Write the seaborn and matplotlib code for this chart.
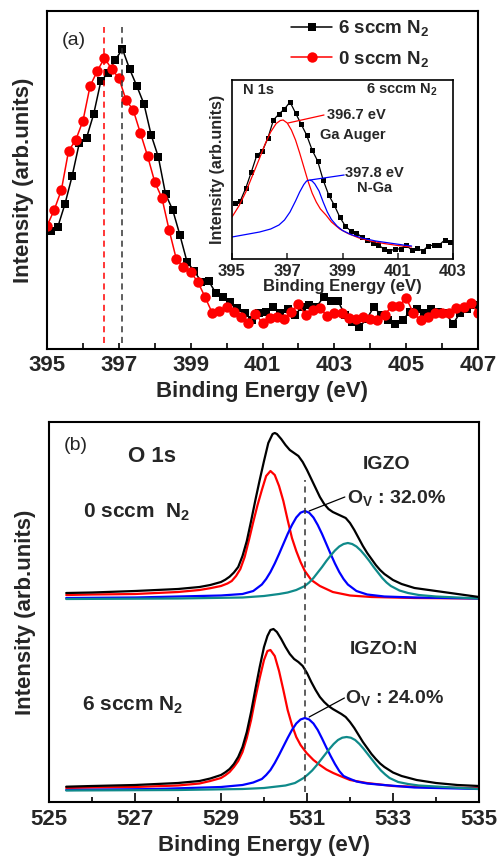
import numpy as np
import pandas as pd
import matplotlib
matplotlib.use("Agg")
import matplotlib.pyplot as plt
import seaborn as sns

# ---------------- panel (a): N 1s region, two samples ----------------
be_6 = np.round(np.arange(395.1, 406.95, 0.2), 1)
int_6 = [118, 122, 145, 173, 206, 211, 235, 268, 276, 289,
         300, 280, 263, 245, 214, 192, 155, 139, 114, 87,
         78, 67, 68, 56, 52, 47, 41, 36, 29, 36,
         37, 42, 36, 40, 34, 42, 44, 42, 52, 48,
         48, 34, 27, 22, 30, 42, 34, 29, 25, 29,
         37, 40, 36, 40, 37, 36, 25, 36, 40, 44]
be_0 = np.round(np.arange(395.0, 407.05, 0.2), 1)
int_0 = [123, 139, 159, 198, 209, 228, 263, 278, 291, 280,
         271, 249, 239, 216, 193, 167, 151, 119, 90, 82,
         77, 67, 52, 36, 38, 42, 37, 32, 26, 35,
         26, 31, 32, 30, 37, 45, 34, 39, 41, 33,
         36, 36, 31, 30, 32, 30, 29, 34, 43, 43,
         51, 36, 29, 32, 36, 36, 36, 41, 42, 46,
         36]
peak_0, peak_6 = 396.6, 397.1
ticks_a = [395, 397, 399, 401, 403, 405, 407]
minor_a = [396, 398, 400, 402, 404, 406]

# ---------------- inset: N 1s fit (6 sccm) ----------------
be_in = np.round(np.arange(395.1, 402.95, 0.2), 1)
int_in = [56, 58, 71, 87, 104, 108, 121, 139, 145, 150,
          157, 146, 135, 124, 109, 98, 79, 64, 54, 42,
          33, 28, 26, 22, 19, 16, 14, 10, 8, 10,
          10, 14, 9, 11, 8, 13, 14, 14, 19, 17]
be_auger = [395.0, 395.25, 395.5, 395.75, 396.0, 396.2, 396.4, 396.6, 396.75, 396.85,
            397.0, 397.15, 397.3, 397.45, 397.6, 397.75, 397.9, 398.05, 398.2, 398.4,
            398.6, 398.9, 399.2, 399.6, 400.0, 400.5, 401.0, 401.5]
int_auger = [42, 53, 67, 84, 101, 115, 127, 135.5, 138.5, 139,
             136, 129, 119, 106, 92, 78, 66, 57, 50, 44,
             37, 30, 25.5, 21, 18, 15.5, 13.5, 12]
be_nga = [395.0, 395.6, 396.0, 396.4, 396.7, 396.9, 397.1, 397.3, 397.45, 397.6,
          397.7, 397.8, 397.9, 398.0, 398.15, 398.3, 398.45, 398.6, 398.8, 399.0,
          399.3, 399.7, 400.2, 400.7, 401.2, 401.5]
int_nga = [22, 25, 27, 30, 34, 39, 47, 58, 67, 74.5,
           78, 79, 78, 75, 68, 57, 47, 39.5, 33, 28.5,
           24.5, 21, 18, 16, 14, 13]
ticks_in = [395, 397, 399, 401, 403]

# ---------------- panel (b): O 1s fits ----------------
# 0 sccm N2 (IGZO)
be_t_sum = [525.4, 526.0, 527.0, 528.0, 528.25, 528.5, 528.75, 529.0, 529.1, 529.2, 529.3,
            529.4, 529.5, 529.6, 529.7, 529.8,
            529.9, 530.0, 530.1, 530.2, 530.25, 530.3, 530.4, 530.5, 530.6, 530.7, 530.8,
            530.9, 531.0, 531.1, 531.2, 531.3, 531.4, 531.5, 531.6, 531.7, 531.8, 531.9,
            532.0, 532.1, 532.2, 532.3, 532.4, 532.5, 532.6, 532.7, 532.8, 533.0, 533.2,
            533.5, 534.0, 534.5, 535.0]
int_t_sum = [209, 209.5, 211, 213, 214, 215, 217, 220, 222.3, 225.3, 229.5,
             235, 246, 261, 281, 302,
             322, 341, 359, 368, 369, 368, 363, 357, 352, 349, 346,
             340, 332, 323, 314, 305, 298, 293, 290, 288, 286, 284,
             279, 272, 264, 256, 249, 243, 237, 232, 228, 222, 218,
             214, 211, 208, 205]
be_t_lat = [525.4, 526.0, 527.0, 528.0, 528.5, 528.75, 529.0, 529.15, 529.25, 529.35, 529.45,
            529.55, 529.65, 529.75,
            529.85, 529.95, 530.05, 530.15, 530.25, 530.35, 530.45, 530.55, 530.65, 530.75,
            530.85, 530.95, 531.1, 531.3, 531.6, 532.0, 532.5, 533.5, 535.0]
int_t_lat = [207, 207.5, 208, 210, 212, 213.8, 216, 218.5, 221, 226, 233,
             245, 262, 280,
             297, 312, 326, 331, 327, 316, 301, 282, 264, 251,
             240, 231, 222, 216, 210, 206.5, 205, 204, 203.5]
be_t_ov = [525.4, 527.0, 528.5, 529.0, 529.5, 529.75, 529.95, 530.05, 530.15, 530.25, 530.35,
           530.45, 530.55, 530.65, 530.75, 530.85, 530.95, 531.05, 531.15, 531.25, 531.35,
           531.45, 531.55, 531.65, 531.75, 531.85, 531.95, 532.15, 532.4, 532.8, 533.5, 535.0]
int_t_ov = [204, 204.5, 206, 206.5, 208, 211, 217.5, 223, 230, 238.5, 248,
            258, 268, 277, 284.5, 289.3, 291, 289.3, 284.5, 277, 268,
            258, 248, 238.5, 230, 223, 217.5, 211, 207.5, 205.5, 204.5, 203.5]
be_t_oh = [525.4, 528.0, 529.5, 530.0, 530.35, 530.55, 530.75, 530.95, 531.05, 531.15, 531.25,
           531.35, 531.45, 531.55, 531.65, 531.75, 531.85, 531.95, 532.05, 532.15, 532.25,
           532.35, 532.45, 532.55, 532.65, 532.75, 532.85, 532.95, 533.15, 533.35, 533.6,
           534.0, 535.0]
int_t_oh = [203, 203.5, 204.5, 206, 208, 209.5, 212, 216, 219.5, 224, 229.5,
            235, 241, 246.5, 251.5, 255.5, 258, 259, 258, 255.5, 251.5,
            246.5, 241, 235, 229.5, 224, 219.5, 216, 211.5, 209, 207,
            205.5, 203.5]
# 6 sccm N2 (IGZO:N)
be_b_sum = [525.4, 526.0, 527.0, 528.0, 528.5, 528.75, 529.0, 529.1, 529.2, 529.3, 529.4,
            529.5, 529.6, 529.7, 529.8,
            529.9, 530.0, 530.08, 530.15, 530.22, 530.3, 530.4, 530.5, 530.6, 530.7, 530.8,
            530.9, 531.0, 531.1, 531.2, 531.3, 531.4, 531.5, 531.6, 531.7, 531.8, 531.9,
            532.0, 532.1, 532.2, 532.3, 532.4, 532.5, 532.6, 532.7, 532.8, 533.0, 533.2,
            533.55, 534.0, 534.5, 535.0]
int_b_sum = [15.3, 16, 17, 19, 21, 23.5, 27, 29.7, 33, 38, 45,
             55, 70, 90, 113,
             135, 155, 166, 172, 173, 170, 163, 155, 148, 143, 140,
             136, 129, 120, 112, 105, 100, 96, 93, 90.5, 88, 85,
             80, 74, 67, 60, 54, 48, 43, 38.5, 35, 29.5, 26,
             22, 19, 17, 16]
be_b_lat = [525.4, 526.0, 527.0, 528.0, 528.5, 528.75, 529.0, 529.1, 529.2, 529.3, 529.4,
            529.5, 529.6, 529.7, 529.8,
            529.9, 530.0, 530.08, 530.15, 530.25, 530.35, 530.45, 530.55, 530.65, 530.75,
            530.85, 530.99, 531.15, 531.3, 531.45, 531.61, 531.8, 532.0, 532.39, 533.0,
            534.0, 535.0]
int_b_lat = [14, 14.5, 15, 16.5, 18.5, 21, 24, 26.7, 30, 35, 41,
             50, 64, 82, 104,
             124, 142, 151, 152, 146, 131, 112, 92, 77, 65,
             57, 49, 42, 37, 32.5, 29, 25.5, 22, 19, 16,
             14.5, 14]
be_b_ov = [525.4, 527.5, 529.0, 529.5, 529.75, 529.95, 530.05, 530.15, 530.25, 530.35, 530.45,
           530.55, 530.65, 530.75, 530.85, 530.95, 531.05, 531.15, 531.25, 531.35, 531.45,
           531.55, 531.65, 531.75, 531.85, 531.95, 532.15, 532.4, 532.78, 533.5, 535.0]
int_b_ov = [12, 13, 15, 17, 19.5, 23, 27, 32, 39, 47, 55.5,
            64, 72, 78.5, 82.5, 84, 82.5, 78.5, 72, 63.5, 54.5,
            46, 38, 31, 26, 24, 20.5, 18.5, 17, 14.5, 13]
be_b_oh = [525.4, 528.0, 529.5, 530.0, 530.5, 530.72, 530.92, 531.02, 531.12, 531.22, 531.32,
           531.42, 531.52, 531.62, 531.72, 531.82, 531.92, 532.02, 532.12, 532.22, 532.32,
           532.42, 532.52, 532.62, 532.72, 532.82, 532.92, 533.12, 533.35, 533.6, 534.0,
           535.0]
int_b_oh = [11.5, 12, 13, 14, 16.5, 19, 24, 27.5, 31.5, 36.5, 42,
            47.5, 53, 58, 62, 64.3, 65, 64.3, 62, 58, 53,
            47.5, 42, 36.5, 31.5, 27.5, 24, 20, 18, 16.5, 15.5,
            13]
ov_line = 530.95
ticks_b = [525, 527, 529, 531, 533, 535]
minor_b = [526, 528, 530, 532, 534]

# ---------------- style ----------------
sns.set_theme(style="ticks")
plt.rcParams.update({
    "font.family": ["Liberation Sans", "DejaVu Sans"],
    "font.weight": "bold",
    "axes.labelweight": "bold",
    "mathtext.fontset": "custom",
    "mathtext.rm": "Liberation Sans:bold",
    "mathtext.it": "Liberation Sans:bold",
    "mathtext.bf": "Liberation Sans:bold",
    "axes.linewidth": 1.5,
    "axes.edgecolor": "black",
})

fig = plt.figure(figsize=(5.03, 8.60), dpi=100)
ax_a = fig.add_axes([47 / 503, 1 - 349 / 860, 431 / 503, 338 / 860])
ax_b = fig.add_axes([49 / 503, 1 - 802 / 860, 430 / 503, 380 / 860])
ax_in = fig.add_axes([232 / 503, 1 - 259 / 860, 221 / 503, 179 / 860])

RED = "#ff0000"
BLUE = "#0000ff"
TEAL = "#0f8a8a"

# ---- panel (a)
df6 = pd.DataFrame({"be": be_6, "I": int_6})
df0 = pd.DataFrame({"be": be_0, "I": int_0})
sns.lineplot(data=df6, x="be", y="I", ax=ax_a, color="black", lw=1.1, marker="s",
             markersize=6, markeredgewidth=0, label="6 sccm N$_2$")
sns.lineplot(data=df0, x="be", y="I", ax=ax_a, color=RED, lw=1.1, marker="o",
             markersize=7.5, markeredgewidth=0, label="0 sccm N$_2$")
ax_a.axvline(peak_0, ymin=0.018, ymax=0.953, color=RED, ls=(0, (4, 3)), lw=1.1)
ax_a.axvline(peak_6, ymin=0.018, ymax=0.953, color="#333333", ls=(0, (4, 3)), lw=1.1)
ax_a.set_xlim(395, 407)
ax_a.set_ylim(0, 338)
ax_a.set_xticks(ticks_a)
ax_a.set_xticks(minor_a, minor=True)
ax_a.set_xticklabels([str(t) for t in ticks_a])
ax_a.set_yticks([])
ax_a.tick_params(axis="x", which="both", direction="in", length=4.5, width=1.4,
                 labelsize=16, pad=4.5)
ax_a.set_xlabel("Binding Energy (eV)", fontsize=16)
ax_a.set_ylabel("Intensity (arb.units)", fontsize=16)
ax_a.xaxis.set_label_coords(0.5, -0.095)
ax_a.yaxis.set_label_coords(-0.03, 0.5)
ax_a.text(395.75, 304, "(a)", fontsize=14, fontweight="normal", ha="center", va="baseline")
ax_a.legend(loc="upper left", bbox_to_anchor=(0.566, 0.978), frameon=False,
            fontsize=13.5, handlelength=2.2, handletextpad=0.3,
            borderaxespad=0, borderpad=0, labelspacing=0.55)

# ---- inset
sns.lineplot(x=be_in, y=int_in, ax=ax_in, color="black", lw=0.9, marker="s",
             markersize=3.6, markeredgewidth=0)
sns.lineplot(x=be_auger, y=int_auger, ax=ax_in, color=RED, lw=0.9)
sns.lineplot(x=be_nga, y=int_nga, ax=ax_in, color=BLUE, lw=0.9)
ax_in.set_xlim(395, 403)
ax_in.set_ylim(0, 179)
ax_in.set_xticks(ticks_in)
ax_in.set_xticklabels([str(t) for t in ticks_in])
ax_in.set_yticks([])
for s in ax_in.spines.values():
    s.set_linewidth(1.2)
ax_in.tick_params(axis="x", direction="in", length=4, width=1.1, labelsize=12, pad=3.4)
ax_in.set_xlabel("Binding Energy (eV)", fontsize=12)
ax_in.set_ylabel("Intensity (arb.units)", fontsize=11.5)
ax_in.xaxis.set_label_coords(0.5, -0.114)
ax_in.yaxis.set_label_coords(-0.032, 0.5)
ax_in.text(395.4, 169, "N 1s", fontsize=10.5, ha="left", va="center")
ax_in.text(402.43, 169, "6 sccm N$_2$", fontsize=10.5, ha="right", va="center")
ax_in.plot([397.03, 398.33], [136, 144], color=RED, lw=0.9)
ax_in.text(398.44, 144, "396.7 eV", fontsize=10.5, ha="left", va="center")
ax_in.text(398.19, 124, "Ga Auger", fontsize=10.5, ha="left", va="center")
ax_in.plot([397.83, 399.06], [79, 84], color=BLUE, lw=0.9)
ax_in.text(399.09, 86, "397.8 eV", fontsize=10.5, ha="left", va="center")
ax_in.text(399.53, 71, "N-Ga", fontsize=10.5, ha="left", va="center")

# ---- panel (b)
curves = [
    (be_t_lat, int_t_lat, RED), (be_t_ov, int_t_ov, BLUE), (be_t_oh, int_t_oh, TEAL),
    (be_t_sum, int_t_sum, "black"),
    (be_b_lat, int_b_lat, RED), (be_b_ov, int_b_ov, BLUE), (be_b_oh, int_b_oh, TEAL),
    (be_b_sum, int_b_sum, "black"),
]
for xs, ys, c in curves:
    sns.lineplot(x=xs, y=ys, ax=ax_b, color=c, lw=1.6)
ax_b.plot([ov_line, ov_line], [10, 322], color="#333333", ls=(0, (4, 3)), lw=1.1)
ax_b.set_xlim(525, 535)
ax_b.set_ylim(0, 380)
ax_b.set_xticks(ticks_b)
ax_b.set_xticks(minor_b, minor=True)
ax_b.set_xticklabels([str(t) for t in ticks_b])
ax_b.set_yticks([])
ax_b.tick_params(axis="x", which="major", direction="in", length=6.5, width=1.4,
                 labelsize=16, pad=5)
ax_b.tick_params(axis="x", which="minor", direction="in", length=3.5, width=1.4)
ax_b.set_xlabel("Binding Energy (eV)", fontsize=16)
ax_b.set_ylabel("Intensity (arb.units)", fontsize=16)
ax_b.xaxis.set_label_coords(0.5, -0.088)
ax_b.yaxis.set_label_coords(-0.03, 0.5)
ax_b.text(525.63, 352, "(b)", fontsize=14, fontweight="normal", ha="center", va="baseline")
ax_b.text(527.4, 340, "O 1s", fontsize=16, ha="center", va="baseline")
ax_b.text(525.79, 284, "0 sccm  N$_2$", fontsize=15, ha="left", va="baseline")
ax_b.text(532.30, 333, "IGZO", fontsize=14, ha="left", va="baseline")
ax_b.text(531.93, 299, "O$_\\mathrm{V}$ : 32.0%", fontsize=14, ha="left", va="baseline")
ax_b.plot([531.05, 531.88], [291, 305], color="black", lw=0.9)
ax_b.text(525.77, 91, "6 sccm N$_2$", fontsize=15, ha="left", va="baseline")
ax_b.text(532.0, 148, "IGZO:N", fontsize=14, ha="left", va="baseline")
ax_b.text(531.88, 99, "O$_\\mathrm{V}$ : 24.0%", fontsize=14, ha="left", va="baseline")
ax_b.plot([531.05, 531.87], [85, 104], color="black", lw=0.9)

fig.savefig("out.png", dpi=100)
